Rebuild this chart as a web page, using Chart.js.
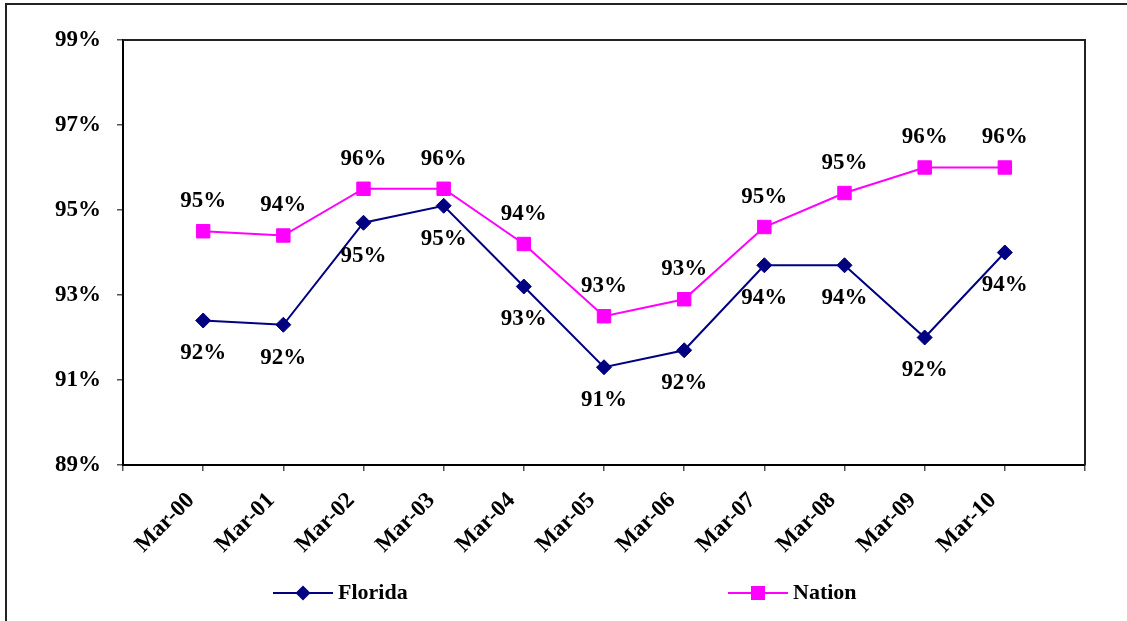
<!DOCTYPE html>
<html>
<head>
<meta charset="utf-8">
<script src="https://cdn.jsdelivr.net/npm/chart.js@4.4.1/dist/chart.umd.min.js"></script>
<style>
  html, body { margin: 0; padding: 0; background: #fff; }
</style>
</head>
<body>
<canvas id="rateChart" width="1127" height="621"></canvas>
<script>
const months = ["Mar-00", "Mar-01", "Mar-02", "Mar-03", "Mar-04", "Mar-05",
  "Mar-06", "Mar-07", "Mar-08", "Mar-09", "Mar-10"];
const florida = [92.4, 92.3, 94.7, 95.1, 93.2, 91.3, 91.7, 93.7, 93.7, 92.0, 94.0];
const nation = [94.5, 94.4, 95.5, 95.5, 94.2, 92.5, 92.9, 94.6, 95.4, 96.0, 96.0];
const yTicks = [89, 91, 93, 95, 97, 99];

const FONT = "'Liberation Serif', 'Times New Roman', serif";
const NAVY = "#000080";
const PINK = "#FF00FF";

// months sit at positions 1..11 on a 0..12 axis, like the Excel original
const toPoints = (vals) => vals.map((v, i) => ({ x: i + 1, y: v }));

const frame = {
  id: "frame",
  beforeDraw(chart) {
    const c = chart.ctx;
    c.save();
    c.fillStyle = "#fff";
    c.fillRect(0, 0, chart.width, chart.height);
    c.strokeStyle = "#222";
    c.lineWidth = 2;
    c.beginPath();
    c.moveTo(6, chart.height);
    c.lineTo(6, 4);
    c.lineTo(chart.width, 4);
    c.stroke();
    c.restore();
  },
  afterDatasetsDraw(chart) {
    const c = chart.ctx;
    const a = chart.chartArea;
    c.save();
    c.strokeStyle = "#222";
    c.lineWidth = 2;
    c.beginPath();
    c.moveTo(a.left, a.top);
    c.lineTo(a.right, a.top);
    c.lineTo(a.right, a.bottom);
    c.stroke();

    // value labels: Nation above, Florida below
    c.font = "bold 23px " + FONT;
    c.fillStyle = "#000";
    c.textAlign = "center";
    c.textBaseline = "middle";
    chart.data.datasets.forEach((ds, di) => {
      const meta = chart.getDatasetMeta(di);
      const off = ds.label === "Nation" ? -30 : 33;
      meta.data.forEach((pt, i) => {
        c.fillText(Math.round(ds.data[i].y) + "%", pt.x, pt.y + off);
      });
    });

    // legend
    const items = [
      { label: "Florida", color: NAVY, style: "diamond", x: 273 },
      { label: "Nation", color: PINK, style: "square", x: 728 },
    ];
    const ly = 593;
    items.forEach((it) => {
      c.strokeStyle = it.color;
      c.fillStyle = it.color;
      c.lineWidth = 2;
      c.beginPath();
      c.moveTo(it.x, ly);
      c.lineTo(it.x + 60, ly);
      c.stroke();
      const cx = it.x + 30;
      c.beginPath();
      if (it.style === "diamond") {
        c.moveTo(cx, ly - 7.5);
        c.lineTo(cx + 7.5, ly);
        c.lineTo(cx, ly + 7.5);
        c.lineTo(cx - 7.5, ly);
        c.closePath();
      } else {
        c.rect(cx - 7, ly - 7, 14, 14);
      }
      c.fill();
      c.fillStyle = "#000";
      c.textAlign = "left";
      c.font = "bold 22px " + FONT;
      c.fillText(it.label, it.x + 65, ly);
    });
    c.restore();
  },
};

const ctx = document.getElementById("rateChart").getContext("2d");
const rateChart = new Chart(ctx, {
  type: "line",
  data: {
    datasets: [
      {
        label: "Florida",
        data: toPoints(florida),
        borderColor: NAVY,
        backgroundColor: NAVY,
        borderWidth: 2,
        pointStyle: "rectRot",
        pointRadius: 7.5,
        pointBackgroundColor: NAVY,
        pointBorderColor: NAVY,
        pointBorderWidth: 1,
        tension: 0,
        fill: false,
      },
      {
        label: "Nation",
        data: toPoints(nation),
        borderColor: PINK,
        backgroundColor: PINK,
        borderWidth: 2,
        pointStyle: "rect",
        pointRadius: 9.5,
        pointBackgroundColor: PINK,
        pointBorderColor: PINK,
        pointBorderWidth: 1,
        tension: 0,
        fill: false,
      },
    ],
  },
  options: {
    responsive: false,
    animation: false,
    events: [],
    layout: { padding: { top: 40, right: 42, left: 0, bottom: 0 } },
    plugins: {
      legend: { display: false },
      tooltip: { enabled: false },
    },
    scales: {
      x: {
        type: "linear",
        min: 0,
        max: 12,
        afterBuildTicks(scale) {
          scale.ticks = [];
          for (let i = 0; i <= months.length + 1; i++) scale.ticks.push({ value: i });
        },
        afterFit(scale) { scale.height = 156; },
        grid: { drawOnChartArea: false, drawTicks: true, tickLength: 6, color: "#555", lineWidth: 1.5 },
        border: { display: true, color: "#000", width: 2 },
        ticks: {
          autoSkip: false,
          minRotation: 45,
          maxRotation: 45,
          padding: 4,
          color: "#000",
          font: { family: FONT, size: 23, weight: "bold" },
          // trailing spaces nudge the rotated label left of its tick, as in the original
          callback: (v) => (months[v - 1] ? months[v - 1] + "   " : ""),
        },
      },
      y: {
        min: 89,
        max: 99,
        afterBuildTicks(scale) {
          scale.ticks = yTicks.map((v) => ({ value: v }));
        },
        afterFit(scale) { scale.width = 123; },
        grid: { drawOnChartArea: false, drawTicks: true, tickLength: 6, color: "#555", lineWidth: 1.5 },
        border: { display: true, color: "#000", width: 2 },
        ticks: {
          padding: 16,
          color: "#000",
          font: { family: FONT, size: 23, weight: "bold" },
          callback: (v) => v + "%",
        },
      },
    },
  },
  plugins: [frame],
});
</script>
</body>
</html>
